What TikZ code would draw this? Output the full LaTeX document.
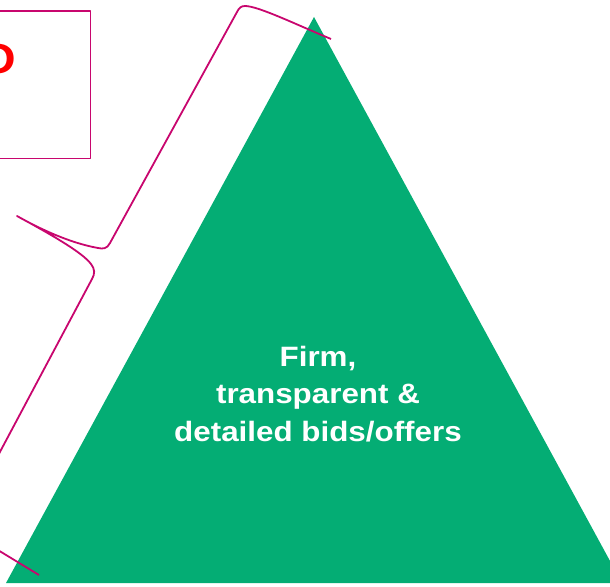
\documentclass[tikz,border=0pt]{standalone}
\usepackage{fontspec}
\setmainfont{Liberation Sans}
\usepackage{graphicx}
\usepackage{tikz}
\usetikzlibrary{positioning}

\definecolor{bidgreen}{RGB}{4,173,116}
\definecolor{bracepink}{RGB}{200,6,110}
\newcommand{\stretchx}[1]{\scalebox{1.12}[1]{#1}}

\tikzset{
  bracket/.style={draw=bracepink, line width=1.8pt, line join=round},
  tag/.style={font=\bfseries\fontsize{28}{37.5}\selectfont, text=white, align=center, inner sep=0pt}
}

\begin{document}
\begin{tikzpicture}[x=1pt, y=-1pt]
\useasboundingbox (0,0) rectangle (610,586);

% box at top left, mostly off the page
\draw[bracket] (-40,11) rectangle (90.5,158.5);
\node[text=red, font=\bfseries\fontsize{42}{42}\selectfont, anchor=east, inner sep=0pt] (lbl) at (16,59) {\stretchx{O}};

% the pyramid
\fill[bidgreen] (6,583) -- (314,17) -- (622,583) -- cycle;
\node[tag] (bids) at (318,394) {\stretchx{Firm,}\\\stretchx{transparent \&}\\\stretchx{detailed bids/offers}};

% bracket along the left side of the pyramid
\draw[bracket] (331,39) .. controls (295,24) and (258,6) .. (245,6)
  .. controls (241,6) and (239,8) .. (237,12) -- (110,243)
  .. controls (107,249) and (103,249) .. (98,248)
  .. controls (70,243) and (40,229) .. (17,216)
  .. controls (50,234) and (82,252) .. (91,264)
  .. controls (95,269) and (95,274) .. (92,279) -- (-40,527)
  -- (39,575);
\end{tikzpicture}
\end{document}
